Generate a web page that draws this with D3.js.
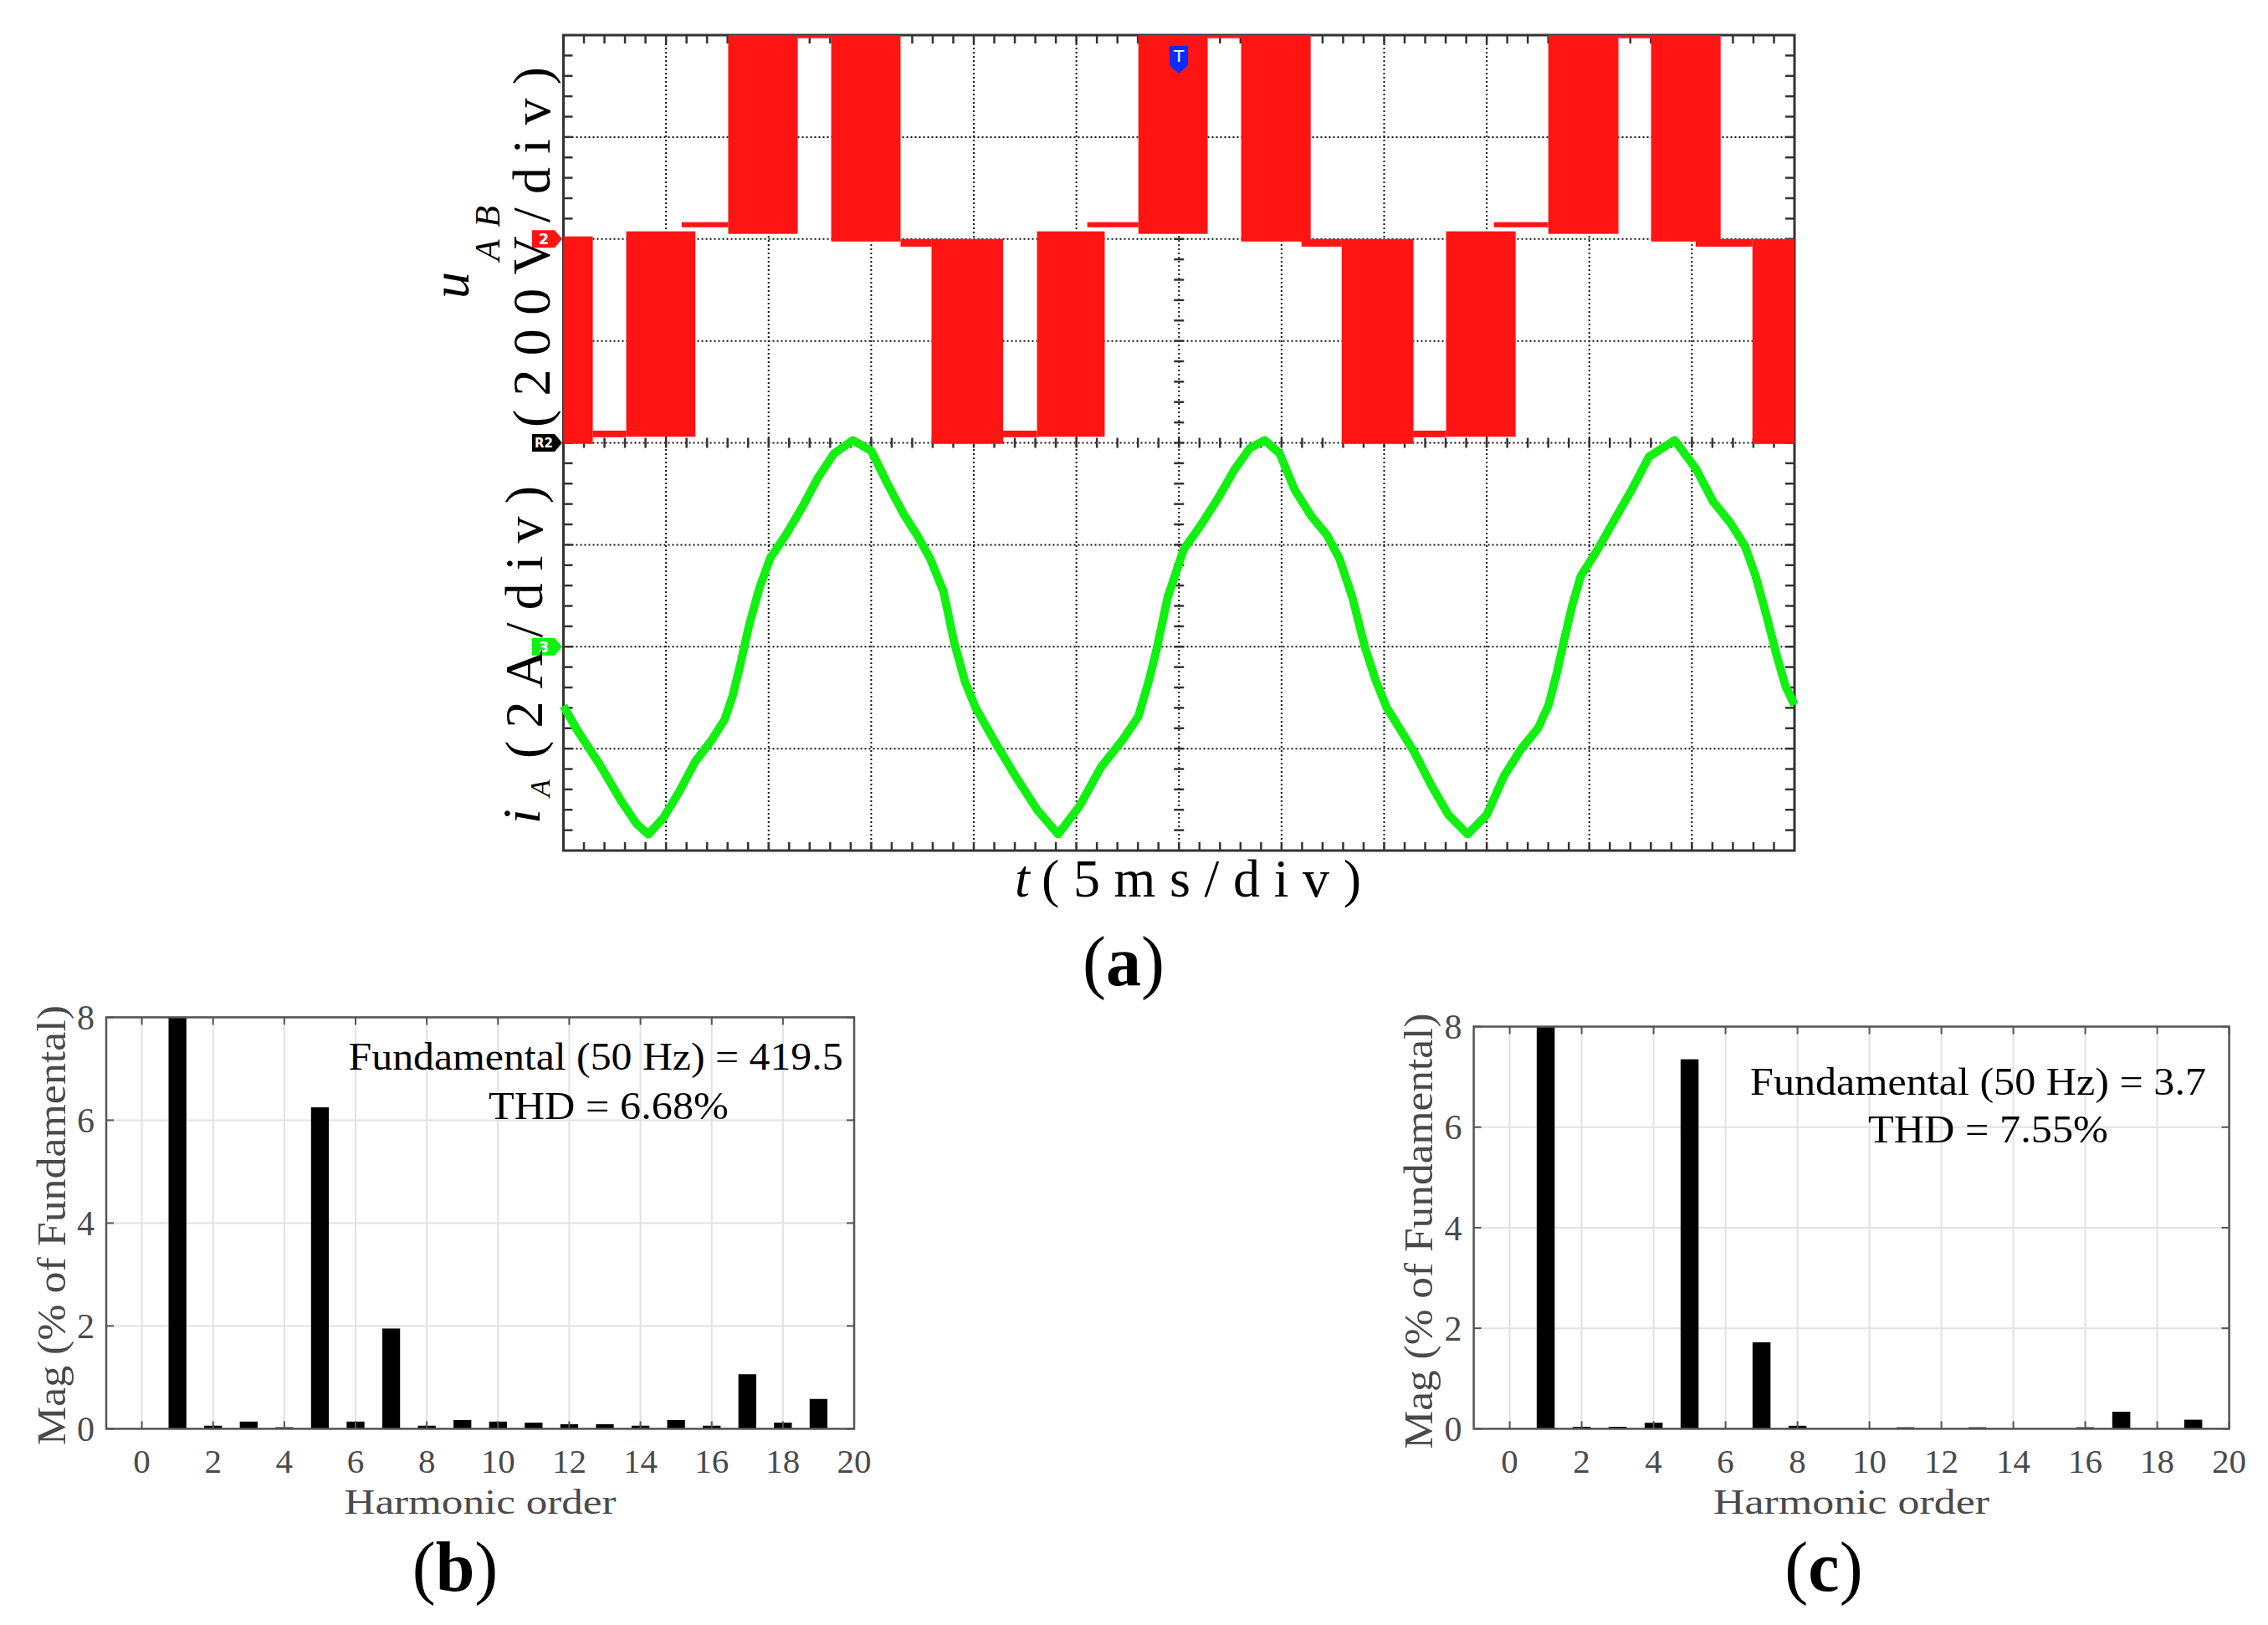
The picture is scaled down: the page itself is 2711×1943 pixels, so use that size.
<!DOCTYPE html>
<html><head><meta charset="utf-8">
<script src="https://cdn.jsdelivr.net/npm/d3@7"></script>
<style>body{margin:0;background:#fff} svg{display:block}</style>
</head><body>
<svg id="chart" width="2711" height="1943"></svg>
<script>
// ================= DATA =================
// (a) oscilloscope: 5 ms/div (12 div), u_AB 200 V/div, i_A 2 A/div
// u_AB PWM bands: [t start ms, t end ms, V low, V high]
const uabBlocks = [
  [0.00, 1.43, -402, 5],
  [3.06, 6.43, -388, 15],
  [8.03, 11.42, 10, 400],
  [13.05, 16.43, -5, 400],
  [17.94, 21.43, -402, 0],
  [23.08, 26.38, -388, 15],
  [28.02, 31.40, 10, 400],
  [33.03, 36.42, -5, 400],
  [37.93, 41.43, -402, 0],
  [43.02, 46.41, -388, 15],
  [48.00, 51.42, 10, 400],
  [53.01, 56.40, -5, 400],
  [57.95, 60.00, -402, 0]
];
// u_AB flat levels between bands: [t start ms, t end ms, V low, V high]
const uabSteps = [
  [1.43, 3.06, -389, -376],
  [5.77, 8.03, 23, 33],
  [11.42, 13.05, 394, 400],
  [16.43, 17.94, -15, 0],
  [21.43, 23.08, -389, -376],
  [25.53, 28.02, 23, 33],
  [31.40, 33.03, 394, 400],
  [35.97, 37.93, -15, 0],
  [41.43, 43.02, -389, -376],
  [45.35, 48.00, 23, 33],
  [51.42, 53.01, 394, 400],
  [55.18, 57.95, -15, 0]
];
// i_A trace samples (ms, A)
const iaTime = [0, 0.71, 1.75, 2.79, 3.57, 4.14, 4.87, 5.65, 6.43, 7.21, 7.86, 8.25, 8.64, 9.03, 9.55, 10.07, 10.85, 11.63, 12.41, 13.19, 14.10, 15.01, 15.79, 16.57, 17.22, 17.87, 18.52, 19.04, 19.56, 20.08, 20.99, 22.03, 23.07, 24.11, 25.15, 26.19, 27.23, 28.02, 28.53, 28.93, 29.45, 30.23, 31.06, 31.90, 32.73, 33.46, 34.18, 34.91, 35.64, 36.47, 37.20, 37.82, 38.45, 39.07, 39.60, 40.12, 40.84, 41.47, 42.30, 43.13, 44.07, 45.00, 45.84, 46.67, 47.50, 48.02, 48.43, 48.75, 49.16, 49.58, 50.41, 51.24, 52.07, 52.91, 54.16, 55.20, 56.03, 56.86, 57.59, 58.11, 58.63, 59.15, 59.57, 60];
const iaValue = [-1.16, -1.66, -2.30, -3.01, -3.48, -3.68, -3.36, -2.84, -2.25, -1.84, -1.43, -0.96, -0.32, 0.39, 1.15, 1.73, 2.20, 2.73, 3.32, 3.79, 4.05, 3.84, 3.20, 2.61, 2.20, 1.73, 1.09, 0.09, -0.67, -1.19, -1.84, -2.54, -3.19, -3.68, -3.13, -2.37, -1.84, -1.37, -0.67, -0.02, 0.97, 1.91, 2.38, 2.91, 3.49, 3.90, 4.05, 3.79, 3.08, 2.55, 2.20, 1.73, 0.97, -0.02, -0.67, -1.19, -1.66, -2.07, -2.72, -3.30, -3.68, -3.30, -2.54, -2.01, -1.60, -1.14, -0.49, 0.09, 0.80, 1.38, 1.91, 2.50, 3.08, 3.73, 4.05, 3.49, 2.85, 2.44, 1.97, 1.38, 0.62, -0.20, -0.78, -1.14];

// (b),(c) harmonic spectra (% of fundamental)
const harmonicOrder = [0, 1, 2, 3, 4, 5, 6, 7, 8, 9, 10, 11, 12, 13, 14, 15, 16, 17, 18, 19];
const magVoltage = [0, 100, 0.06, 0.14, 0.03, 6.25, 0.14, 1.95, 0.06, 0.17, 0.14, 0.12, 0.09, 0.09, 0.06, 0.17, 0.06, 1.06, 0.12, 0.58];
const magCurrent = [0, 100, 0.04, 0.04, 0.12, 7.35, 0, 1.72, 0.06, 0, 0, 0.03, 0, 0.03, 0, 0, 0.03, 0.34, 0, 0.18];
const harmXTicks = [0, 2, 4, 6, 8, 10, 12, 14, 16, 18, 20];
const harmYTicks = [0, 2, 4, 6, 8];
const annotVoltage = ["Fundamental (50 Hz) = 419.5", "THD = 6.68%"];
const annotCurrent = ["Fundamental (50 Hz) = 3.7", "THD = 7.55%"];

// ================= DRAWING =================
const svg = d3.select("#chart");
const SERIF = "'Liberation Serif','Times New Roman',serif";
svg.append("rect").attr("width", 2711).attr("height", 1943).attr("fill", "#fff");

// ---- (a) scope ----
const L = 673.5, R = 2145, T = 42, B = 1017;
const xT = d3.scaleLinear().domain([0, 60]).range([L, R]);
const yU = d3.scaleLinear().domain([-1200, 400]).range([B, T]);
const yI = d3.scaleLinear().domain([-4, 12]).range([B, T]);
const divX = d3.scaleLinear().domain([0, 12]).range([L, R]);
const divY = d3.scaleLinear().domain([0, 8]).range([T, B]);

const scope = svg.append("g");
const grid = scope.append("g").attr("stroke", "#111").attr("stroke-width", 2).attr("stroke-dasharray", "2,3");
grid.selectAll(".gv").data(d3.range(1, 12)).enter().append("line")
  .attr("x1", d => divX(d)).attr("x2", d => divX(d)).attr("y1", T).attr("y2", B);
grid.selectAll(".gh").data(d3.range(1, 8)).enter().append("line")
  .attr("y1", d => divY(d)).attr("y2", d => divY(d)).attr("x1", L).attr("x2", R);

const tk = scope.append("g").attr("stroke", "#333").attr("stroke-width", 2.5);
const minorX = d3.range(1, 60).map(k => k / 5);
const minorY = d3.range(1, 40).map(k => k / 5);
minorX.forEach(d => {
  const x = divX(d);
  tk.append("line").attr("x1", x).attr("x2", x).attr("y1", T).attr("y2", T + 10);
  tk.append("line").attr("x1", x).attr("x2", x).attr("y1", B).attr("y2", B - 10);
  tk.append("line").attr("x1", x).attr("x2", x).attr("y1", divY(4) - 6).attr("y2", divY(4) + 6);
});
minorY.forEach(d => {
  const y = divY(d);
  tk.append("line").attr("y1", y).attr("y2", y).attr("x1", L).attr("x2", L + 11);
  tk.append("line").attr("y1", y).attr("y2", y).attr("x1", R).attr("x2", R - 11);
  tk.append("line").attr("y1", y).attr("y2", y).attr("x1", divX(6) - 6).attr("x2", divX(6) + 6);
});
scope.append("rect").attr("x", L).attr("y", T).attr("width", R - L).attr("height", B - T)
  .attr("fill", "none").attr("stroke", "#333").attr("stroke-width", 3);

// u_AB
const red = "#ff1414";
scope.append("g").selectAll("rect").data(uabBlocks).enter().append("rect")
  .attr("x", d => xT(d[0])).attr("width", d => xT(d[1]) - xT(d[0]))
  .attr("y", d => yU(d[3])).attr("height", d => yU(d[2]) - yU(d[3]))
  .attr("fill", red);
scope.append("g").selectAll("rect").data(uabSteps).enter().append("rect")
  .attr("x", d => xT(d[0])).attr("width", d => xT(d[1]) - xT(d[0]))
  .attr("y", d => yU(d[3])).attr("height", d => Math.max(3, yU(d[2]) - yU(d[3])))
  .attr("fill", red);

// i_A
const iaPts = iaTime.map((t, k) => [t, iaValue[k]]);
scope.append("path").datum(iaPts)
  .attr("d", d3.line().x(d => xT(d[0])).y(d => yI(d[1])).curve(d3.curveLinear))
  .attr("fill", "none").attr("stroke", "#11f011").attr("stroke-width", 10)
  .attr("stroke-linejoin", "round");

// markers
function marker(yc, fill, label, fs) {
  const x0 = 636, x1 = 663, tip = 672, h = 10.5;
  scope.append("path").attr("d", `M${x0},${yc - h}L${x1},${yc - h}L${tip},${yc}L${x1},${yc + h}L${x0},${yc + h}Z`).attr("fill", fill);
  scope.append("text").attr("x", 650).attr("y", yc).attr("dy", "0.36em").attr("text-anchor", "middle")
    .attr("font-family", "'DejaVu Sans',sans-serif").attr("font-weight", "bold").attr("font-size", fs)
    .attr("fill", "#fff").text(label);
}
marker(yU(0), red, "2", 18);
marker(yU(-400), "#000", "R2", 15);
marker(yI(0), "#11f011", "3", 18);
scope.append("path").attr("d", `M1398,55L1420,55L1420,78L1409,88L1398,78Z`).attr("fill", "#0a2cff");
scope.append("text").attr("x", 1409).attr("y", 67).attr("dy", "0.36em").attr("text-anchor", "middle")
  .attr("font-family", "'DejaVu Sans',sans-serif").attr("font-size", 20).attr("fill", "#fff").text("T");

// scope labels
function rtext(x, y, str, size, opts = {}) {
  const t = svg.append("text").attr("transform", `translate(${x},${y}) rotate(-90)`)
    .attr("font-family", SERIF).attr("font-size", size).attr("fill", "#000")
    .attr("text-anchor", opts.anchor || "start").text(str);
  if (opts.italic) t.attr("font-style", "italic");
  if (opts.len) t.attr("textLength", opts.len).attr("lengthAdjust", "spacing");
  return t;
}
rtext(560, 357, "u", 64, { italic: true });
rtext(597, 312, "AB", 42, { italic: true, len: 66 });
rtext(657, 511, "(200V/div)", 64, { len: 431 });
rtext(645, 985, "i", 64, { italic: true });
rtext(657, 953, "A", 34, { italic: true });
rtext(648, 907, "(2A/div)", 64, { len: 326 });
svg.append("text").attr("x", 1213).attr("y", 1072).attr("font-family", SERIF).attr("font-size", 64)
  .attr("font-style", "italic").text("t");
svg.append("text").attr("x", 1245).attr("y", 1072).attr("font-family", SERIF).attr("font-size", 64)
  .attr("textLength", 382).attr("lengthAdjust", "spacing").text("(5ms/div)");

function panelLabel(cx, y, letter) {
  const t = svg.append("text").attr("x", cx).attr("y", y).attr("text-anchor", "middle")
    .attr("font-family", SERIF).attr("font-size", 84).attr("fill", "#000");
  t.append("tspan").text("(");
  t.append("tspan").attr("font-weight", "bold").text(letter);
  t.append("tspan").text(")");
}
panelLabel(1343, 1178, "a");

// ---- (b),(c) spectra ----
function spectrum(cfg, mags, annot) {
  const g = svg.append("g");
  const x = d3.scaleLinear().domain([-1, 20]).range([cfg.x0, cfg.x1]);
  const y = d3.scaleLinear().domain([0, 8]).range([cfg.yb, cfg.yt]);
  const gray = "#4a4a4a";
  const clipId = "clip" + cfg.id;
  svg.append("clipPath").attr("id", clipId).append("rect")
    .attr("x", cfg.x0).attr("y", cfg.yt).attr("width", cfg.x1 - cfg.x0).attr("height", cfg.yb - cfg.yt);
  g.selectAll(".vg").data(harmXTicks).enter().append("line")
    .attr("x1", d => x(d)).attr("x2", d => x(d)).attr("y1", cfg.yt).attr("y2", cfg.yb)
    .attr("stroke", "#e2e2e2").attr("stroke-width", 2);
  g.selectAll(".hg").data(harmYTicks).enter().append("line")
    .attr("y1", d => y(d)).attr("y2", d => y(d)).attr("x1", cfg.x0).attr("x2", cfg.x1)
    .attr("stroke", "#e2e2e2").attr("stroke-width", 2);
  g.append("g").attr("clip-path", `url(#${clipId})`).selectAll("rect").data(harmonicOrder).enter().append("rect")
    .attr("x", d => x(d - 0.25)).attr("width", d => x(d + 0.25) - x(d - 0.25))
    .attr("y", (d, k) => y(mags[k])).attr("height", (d, k) => y(0) - y(mags[k]))
    .attr("fill", "#000");
  const tk = g.append("g").attr("stroke", "#555").attr("stroke-width", 2);
  harmXTicks.forEach(d => {
    tk.append("line").attr("x1", x(d)).attr("x2", x(d)).attr("y1", cfg.yb).attr("y2", cfg.yb - 9);
    tk.append("line").attr("x1", x(d)).attr("x2", x(d)).attr("y1", cfg.yt).attr("y2", cfg.yt + 9);
  });
  harmYTicks.forEach(d => {
    tk.append("line").attr("y1", y(d)).attr("y2", y(d)).attr("x1", cfg.x0).attr("x2", cfg.x0 + 9);
    tk.append("line").attr("y1", y(d)).attr("y2", y(d)).attr("x1", cfg.x1).attr("x2", cfg.x1 - 9);
  });
  g.append("rect").attr("x", cfg.x0).attr("y", cfg.yt).attr("width", cfg.x1 - cfg.x0).attr("height", cfg.yb - cfg.yt)
    .attr("fill", "none").attr("stroke", "#555").attr("stroke-width", 2.5);
  g.selectAll(".xl").data(harmXTicks).enter().append("text")
    .attr("x", d => x(d)).attr("y", 1761).attr("text-anchor", "middle")
    .attr("font-family", SERIF).attr("font-size", 41).attr("fill", gray).text(d => d);
  g.selectAll(".yl").data(harmYTicks).enter().append("text")
    .attr("x", cfg.x0 - 14).attr("y", d => y(d)).attr("dy", "0.35em").attr("text-anchor", "end")
    .attr("font-family", SERIF).attr("font-size", 42).attr("fill", gray).text(d => d);
  g.append("text").attr("x", (cfg.x0 + cfg.x1) / 2).attr("y", 1810).attr("text-anchor", "middle")
    .attr("font-family", SERIF).attr("font-size", 42).attr("fill", gray)
    .attr("textLength", cfg.xlabLen).attr("lengthAdjust", "spacingAndGlyphs").text("Harmonic order");
  g.append("text").attr("transform", `translate(${cfg.ylabX},${cfg.ylabY}) rotate(-90)`).attr("text-anchor", "middle")
    .attr("font-family", SERIF).attr("font-size", 48).attr("fill", gray)
    .attr("textLength", cfg.ylabLen).attr("lengthAdjust", "spacingAndGlyphs").text("Mag (% of Fundamental)");
  annot.forEach((s, k) => {
    g.append("text").attr("x", cfg.ann[k][0]).attr("y", cfg.ann[k][1])
      .attr("font-family", SERIF).attr("font-size", 46).attr("fill", "#000")
      .attr("textLength", cfg.ann[k][2]).attr("lengthAdjust", "spacingAndGlyphs").text(s);
  });
  panelLabel(cfg.labX, 1902, cfg.letter);
}
spectrum({ id: "b", x0: 127, x1: 1021, yt: 1216.4, yb: 1708.4, xlabLen: 325, ylabX: 78, ylabY: 1465, ylabLen: 526,
  ann: [[416.6, 1279, 591], [584, 1337.5, 287]], labX: 544, letter: "b" }, magVoltage, annotVoltage);
spectrum({ id: "c", x0: 1761.6, x1: 2664.6, yt: 1227.5, yb: 1708.4, xlabLen: 330, ylabX: 1712, ylabY: 1472, ylabLen: 521,
  ann: [[2092, 1308.5, 545], [2233, 1365.6, 287]], labX: 2180, letter: "c" }, magCurrent, annotCurrent);
</script>
</body></html>
